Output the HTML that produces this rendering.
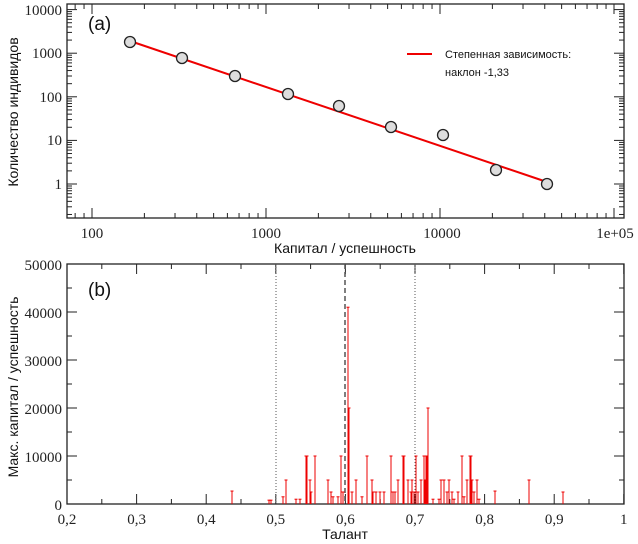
<!DOCTYPE html>
<html><head><meta charset="utf-8"><style>
body{margin:0;background:#fff;}
svg{display:block;}
.t{font-family:"Liberation Serif",serif;font-size:15px;fill:#222;}
.s{font-family:"Liberation Sans",sans-serif;font-size:13px;fill:#111;}
</style></head><body>
<svg id="g" width="638" height="544" viewBox="0 0 638 544" xmlns="http://www.w3.org/2000/svg">
<rect width="638" height="544" fill="#fff"/>
<rect x="67" y="4" width="557" height="214" fill="none" stroke="#222" stroke-width="1.3"/>
<g id="topticks" stroke="#222" stroke-width="1"></g>
<text class="t" x="62" y="15" text-anchor="end">10000</text>
<text class="t" x="62" y="58" text-anchor="end">1000</text>
<text class="t" x="62" y="102" text-anchor="end">100</text>
<text class="t" x="62" y="145" text-anchor="end">10</text>
<text class="t" x="62" y="189" text-anchor="end">1</text>
<text class="t" x="92" y="238" text-anchor="middle">100</text>
<text class="t" x="266" y="238" text-anchor="middle">1000</text>
<text class="t" x="442" y="238" text-anchor="middle">10000</text>
<text class="t" x="615" y="238" text-anchor="middle">1e+05</text>
<text class="s" x="345" y="253" text-anchor="middle" style="font-size:14px">Капитал / успешность</text>
<text class="s" transform="translate(18,112) rotate(-90)" text-anchor="middle" style="font-size:14px">Количество индивидов</text>
<text class="s" x="88" y="30" style="font-size:19px">(a)</text>
<line x1="130" y1="41" x2="547" y2="182" stroke="#e00" stroke-width="2"/>
<g fill="#ddd" stroke="#222" stroke-width="1.3">
<circle cx="130" cy="42" r="5.5"/><circle cx="182" cy="58" r="5.5"/><circle cx="235" cy="76" r="5.5"/>
<circle cx="288" cy="94" r="5.5"/><circle cx="339" cy="106" r="5.5"/><circle cx="391" cy="127" r="5.5"/>
<circle cx="443" cy="135" r="5.5"/><circle cx="496" cy="170" r="5.5"/><circle cx="547" cy="184" r="5.5"/>
</g>
<line x1="407" y1="54" x2="432" y2="54" stroke="#e00" stroke-width="2"/>
<text class="s" x="445" y="58" style="font-size:11px">Степенная зависимость:</text>
<text class="s" x="445" y="76" style="font-size:11px">наклон -1,33</text>
<rect x="67" y="264" width="557" height="240" fill="none" stroke="#222" stroke-width="1.3"/>
<g id="botticks" stroke="#222" stroke-width="1"></g>
<line x1="276" y1="264" x2="276" y2="504" stroke="#555" stroke-width="1" stroke-dasharray="1,2"/>
<line x1="415" y1="264" x2="415" y2="504" stroke="#555" stroke-width="1" stroke-dasharray="1,2"/>
<line x1="345" y1="264" x2="345" y2="504" stroke="#555" stroke-width="1.5" stroke-dasharray="5,3"/>
<g id="spikes" stroke="#e00" stroke-width="1"></g>
<text class="t" x="62" y="270" text-anchor="end">50000</text>
<text class="t" x="62" y="318" text-anchor="end">40000</text>
<text class="t" x="62" y="366" text-anchor="end">30000</text>
<text class="t" x="62" y="414" text-anchor="end">20000</text>
<text class="t" x="62" y="462" text-anchor="end">10000</text>
<text class="t" x="62" y="510" text-anchor="end">0</text>
<text class="s" x="88" y="296" style="font-size:19px">(b)</text>
<text class="s" x="345" y="539" text-anchor="middle" style="font-size:14px">Талант</text>
<text class="s" transform="translate(18,387) rotate(-90)" text-anchor="middle" style="font-size:14px">Макс. капитал / успешность</text>
<g id="xl"></g>
</svg>
<script>
var NS="http://www.w3.org/2000/svg";
function L(g,x1,y1,x2,y2){var l=document.createElementNS(NS,"line");l.setAttribute("x1",x1);l.setAttribute("y1",y1);l.setAttribute("x2",x2);l.setAttribute("y2",y2);g.appendChild(l);}
var tt=document.getElementById("topticks");
for(var d=1;d<=5;d++){for(var m=1;m<10;m++){var v=d+Math.log10(m);var x=92+(v-2)*174;if(x<67||x>624)continue;var len=m==1?10:5;L(tt,x,218,x,218-len);L(tt,x,4,x,4+len);}}
for(var d=-1;d<=4;d++){for(var m=1;m<10;m++){var v=d+Math.log10(m);var y=184-v*43.6;if(y<4||y>218)continue;var len=m==1?10:5;L(tt,67,y,67+len,y);L(tt,624,y,624-len,y);}}
var bt=document.getElementById("botticks");
for(var i=0;i<=16;i++){var x=67+i*34.8;var len=i%2==0?10:5;L(bt,x,504,x,504-len);L(bt,x,264,x,264+len);}
for(var i=0;i<=10;i++){var y=504-i*24;var len=i%2==0?10:5;L(bt,67,y,67+len,y);L(bt,624,y,624-len,y);}
var xl=document.getElementById("xl");
var labs=["0,2","0,3","0,4","0,5","0,6","0,7","0,8","0,9","1"];
for(var i=0;i<9;i++){var t=document.createElementNS(NS,"text");t.setAttribute("class","t");t.setAttribute("x",67+i*69.6);t.setAttribute("y",524);t.setAttribute("text-anchor","middle");t.textContent=labs[i];xl.appendChild(t);}
var sp=[[232,2700],[269,800],[271,800],[283,1500],[286,5000],[296,1000],[300,1000],[306,10000],[307,10000],[310,5000],[311,2500],[315,10000],[328,5000],[331,2500],[333,1500],[338,1500],[341,10000],[343,2500],[348,41000],[349,20000],[352,2500],[356,5000],[362,1500],[367,10000],[372,5000],[373,2500],[376,2500],[380,2500],[384,2500],[391,10000],[393,2500],[395,2500],[398,5000],[403,10000],[404,10000],[408,5000],[411,2500],[412,5000],[414,2500],[416,10000],[418,2500],[421,5000],[424,10000],[425,5000],[426,10000],[427,10000],[428,20000],[433,1000],[439,1000],[441,5000],[444,5000],[447,2500],[449,5000],[452,2500],[454,1000],[458,2500],[462,10000],[464,1500],[467,5000],[470,10000],[471,10000],[472,5000],[474,2500],[477,5000],[479,1000],[495,2700],[529,5000],[563,2500]];
var sg=document.getElementById("spikes");
sp.forEach(function(s){var x=s[0],y=504-s[1]*0.0048;L(sg,x,504,x,y);L(sg,x-1.5,y,x+1.5,y);});
</script>
</body></html>
